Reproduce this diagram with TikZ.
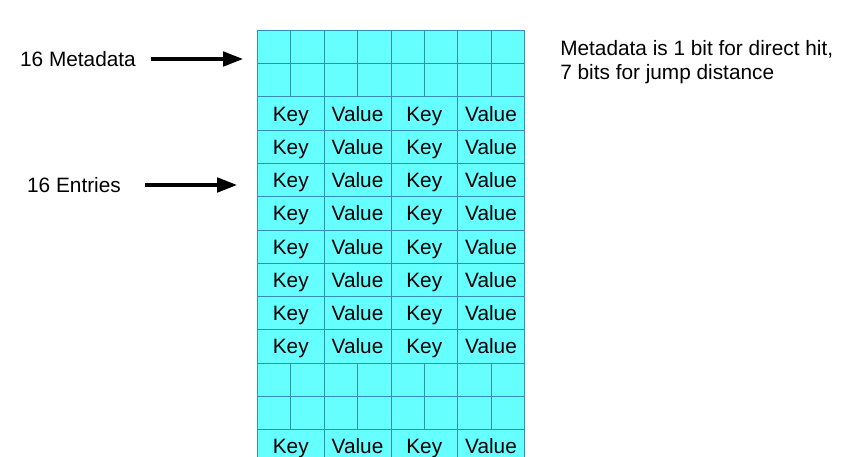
\documentclass[tikz,border=0pt]{standalone}
\usepackage{fontspec}
\setmainfont{Liberation Sans}
\usetikzlibrary{arrows.meta}
\definecolor{cellfill}{RGB}{102,255,255}
\definecolor{cellline}{RGB}{50,140,190}
\begin{document}
\begin{tikzpicture}[x=0.75pt,y=-0.75pt,
  kvcell/.style={draw=cellline, line width=0.6pt, fill=cellfill, minimum width=50.06pt, minimum height=24.94pt, inner sep=0pt, anchor=north west, font=\fontsize{15.6}{18}\selectfont, text height=12.7pt, text depth=1.3pt},
  mdcell/.style={draw=cellline, line width=0.45pt, fill=cellfill, minimum width=25.03pt, minimum height=24.94pt, inner sep=0pt, anchor=north west},
  lbl/.style={font=\fontsize{15.6}{18}\selectfont, inner sep=0pt},
  bigarrow/.style={line width=2.3pt, -{Triangle[length=15pt,width=11pt]}}]
\useasboundingbox (0,0) rectangle (862,456);
\clip (0,0) rectangle (862,456);
\foreach \r in {0,...,12}{
  \pgfmathsetmacro{\yy}{30+\r*33.25}
  \ifnum\r=0 \def\ismd{1}\else\ifnum\r=1 \def\ismd{1}\else\ifnum\r=10 \def\ismd{1}\else\ifnum\r=11 \def\ismd{1}\else\def\ismd{0}\fi\fi\fi\fi
  \if1\ismd
    \foreach \c in {0,...,7}{
      \node[mdcell] (m-\r-\c) at ({257+\c*33.375},\yy) {};
    }
  \else
    \foreach \c/\t in {0/Key,1/Value,2/Key,3/Value}{
      \node[kvcell] (k-\r-\c) at ({257+\c*66.75},\yy) {\t};
    }
  \fi
}
\node[lbl] (mdl) at (78,59) {16 Metadata};
\node[lbl] (enl) at (74,185) {16 Entries};
\coordinate (mdstart) at (151,59);
\coordinate (mdend) at (243,59);
\coordinate (enstart) at (145,185);
\coordinate (enend) at (237,185);
\draw[bigarrow] (mdstart) -- (mdend);
\draw[bigarrow] (enstart) -- (enend);
\node[lbl, anchor=west, align=left] (note) at (560,62) {Metadata is 1 bit for direct hit,\\7 bits for jump distance};
\end{tikzpicture}
\end{document}
